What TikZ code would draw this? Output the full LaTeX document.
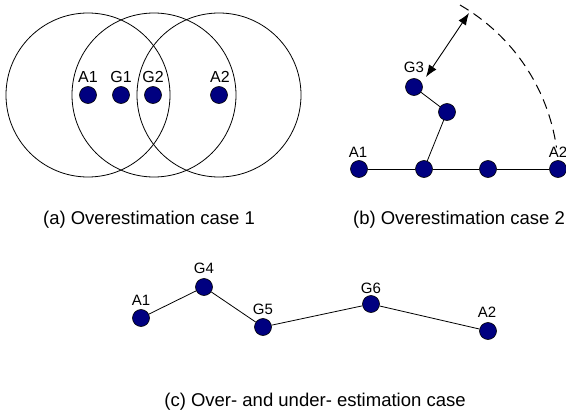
\documentclass[tikz,border=0pt]{standalone}
\usepackage{fontspec}
\setmainfont{Liberation Sans}
\usetikzlibrary{arrows.meta}
\definecolor{dotblue}{RGB}{0,0,128}
\begin{document}
\begin{tikzpicture}[x=1pt,y=-1pt,
  dotnode/.style={circle,fill=dotblue,draw=black,line width=0.6pt,minimum size=17pt,inner sep=0pt},
  lbl/.style={font=\fontsize{16}{18}\selectfont,inner sep=0pt},
  slbl/.style={font=\fontsize{15}{17}\selectfont,inner sep=0pt},
  captxt/.style={font=\fontsize{18.5}{21}\selectfont,inner sep=0pt},
  conn/.style={line width=0.8pt},
  ring/.style={line width=0.8pt}]
\useasboundingbox (0,0) rectangle (566,415);
% (a)
\draw[ring] (88,95) circle[radius=82];
\draw[ring] (154,95) circle[radius=82];
\draw[ring] (219,95) circle[radius=82];
\node[dotnode] (aA1) at (88,95) {};
\node[dotnode] (aG1) at (121,95) {};
\node[dotnode] (aG2) at (153,95) {};
\node[dotnode] (aA2) at (219,95) {};
\node[lbl] (laA1) at (88,77) {A1};
\node[lbl] (laG1) at (121,77) {G1};
\node[lbl] (laG2) at (153,77) {G2};
\node[lbl] (laA2) at (220,77) {A2};
\node[captxt] (capa) at (149,220) {(a) Overestimation case 1};
% (b)
\node[dotnode] (bA1) at (359,169) {};
\node[dotnode] (b2) at (424,169) {};
\node[dotnode] (b3) at (488,169) {};
\node[dotnode] (bA2) at (558,169) {};
\node[dotnode] (b5) at (447,112) {};
\node[dotnode] (bG3) at (414,87) {};
\draw[conn] (bA1) -- (b2);
\draw[conn] (b2) -- (b3);
\draw[conn] (b3) -- (bA2);
\draw[conn] (b2) -- (b5);
\draw[conn] (b5) -- (bG3);
\node[slbl] (lbA1) at (358,152) {A1};
\node[slbl] (lbA2) at (558,152) {A2};
\node[slbl] (lbG3) at (414,67) {G3};
\draw[line width=1pt,dash pattern=on 10pt off 6pt] (460,5) arc[start angle=-60,end angle=-8.2,radius=197];
\coordinate (arrS) at (426,77);
\coordinate (arrE) at (469,13);
\draw[line width=0.9pt,{Latex[length=12pt,width=9pt]}-{Latex[length=12pt,width=9pt]}] (arrS) -- (arrE);
\node[captxt] (capb) at (459,220) {(b) Overestimation case 2};
% (c)
\node[dotnode] (cA1) at (141,318) {};
\node[dotnode] (cG4) at (204,287) {};
\node[dotnode] (cG5) at (263,327) {};
\node[dotnode] (cG6) at (371,304) {};
\node[dotnode] (cA2) at (488,331) {};
\draw[conn] (cA1) -- (cG4);
\draw[conn] (cG4) -- (cG5);
\draw[conn] (cG5) -- (cG6);
\draw[conn] (cG6) -- (cA2);
\node[slbl] (lcA1) at (141,300) {A1};
\node[slbl] (lcG4) at (204,268) {G4};
\node[slbl] (lcG5) at (263,309) {G5};
\node[slbl] (lcG6) at (371,288) {G6};
\node[slbl] (lcA2) at (487,312) {A2};
\node[captxt] (capc) at (315,402) {(c) Over- and under- estimation case};
\end{tikzpicture}
\end{document}
